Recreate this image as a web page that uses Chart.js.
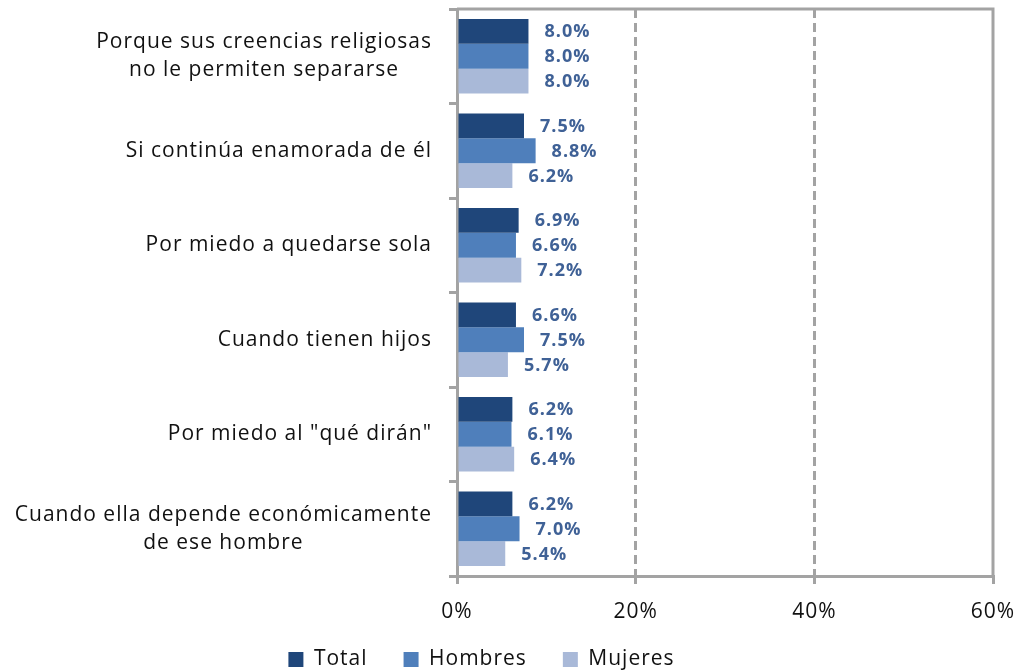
<!DOCTYPE html>
<html>
<head>
<meta charset="utf-8">
<script src="https://cdn.jsdelivr.net/npm/chart.js@4/dist/chart.umd.min.js"></script>
<style>
  html, body { margin: 0; padding: 0; background: #fff; }
  #wrap { width: 1020px; height: 671px; }
</style>
</head>
<body>
<div id="wrap"><canvas id="chart"></canvas></div>
<script>
var categories = [
  ['Porque sus creencias religiosas', 'no le permiten separarse'],
  ['Si continúa enamorada de él'],
  ['Por miedo a quedarse sola'],
  ['Cuando tienen hijos'],
  ['Por miedo al "qué dirán"'],
  ['Cuando ella depende económicamente', 'de ese hombre']
];
var seriesNames = ['Total', 'Hombres', 'Mujeres'];
var totalValues = [8.0, 7.5, 6.9, 6.6, 6.2, 6.2];
var hombresValues = [8.0, 8.8, 6.6, 7.5, 6.1, 7.0];
var mujeresValues = [8.0, 6.2, 7.2, 5.7, 6.4, 5.4];
var tickValues = [0, 20, 40, 60];

var gray = '#A3A3A3';
var fontFamily = '"Open Sans", sans-serif';

// value labels right of each bar
var barLabels = {
  id: 'barLabels',
  afterDatasetsDraw: function(chart) {
    var ctx = chart.ctx;
    ctx.save();
    ctx.font = 'bold 18px ' + fontFamily;
    ctx.fillStyle = '#3F6196';
    ctx.textAlign = 'left';
    ctx.textBaseline = 'middle';
    chart.data.datasets.forEach(function(ds, i) {
      chart.getDatasetMeta(i).data.forEach(function(bar, j) {
        ctx.fillText(ds.data[j].toFixed(1) + '%', bar.x + 16, bar.y + 1);
      });
    });
    ctx.restore();
  }
};

// category labels: block right aligned, lines centered
var catLabels = {
  id: 'catLabels',
  afterDraw: function(chart) {
    var ctx = chart.ctx;
    var y = chart.scales.y;
    var right = chart.chartArea.left - 25;
    var lh = 28;
    ctx.save();
    ctx.font = '21px ' + fontFamily;
    ctx.fillStyle = '#111';
    ctx.textAlign = 'center';
    ctx.textBaseline = 'middle';
    categories.forEach(function(lines, i) {
      var w = 0;
      lines.forEach(function(l) { w = Math.max(w, ctx.measureText(l).width); });
      var cx = right - w / 2;
      var cy = y.getPixelForValue(i);
      lines.forEach(function(l, k) {
        ctx.fillText(l, cx, cy + (k - (lines.length - 1) / 2) * lh);
      });
    });
    ctx.restore();
  }
};

// top and right frame, legend / tick label placement, wider text spacing
var frame = {
  id: 'frame',
  beforeLayout: function(chart) { chart.ctx.letterSpacing = '1px'; },
  beforeDraw: function(chart) { chart.ctx.letterSpacing = '1px'; },
  afterLayout: function(chart) {
    var lg = chart.legend;
    lg.right -= 30;
    lg.top += 9;
    lg.bottom += 9;
    chart.scales.x.bottom = chart.height;
  },
  beforeDatasetsDraw: function(chart) {
    var a = chart.chartArea;
    var ctx = chart.ctx;
    ctx.save();
    ctx.strokeStyle = gray;
    ctx.lineWidth = 3;
    ctx.beginPath();
    ctx.moveTo(a.left, a.top);
    ctx.lineTo(a.right, a.top);
    ctx.lineTo(a.right, a.bottom);
    ctx.stroke();
    ctx.restore();
  }
};

new Chart(document.getElementById('chart'), {
  type: 'bar',
  data: {
    labels: categories.map(function(c) { return c.join(' '); }),
    datasets: [
      { label: seriesNames[0], data: totalValues, backgroundColor: '#1F467A' },
      { label: seriesNames[1], data: hombresValues, backgroundColor: '#4F7FBB' },
      { label: seriesNames[2], data: mujeresValues, backgroundColor: '#A9B9D8' }
    ]
  },
  options: {
    indexAxis: 'y',
    responsive: true,
    maintainAspectRatio: false,
    animation: false,
    datasets: { bar: { categoryPercentage: 0.79, barPercentage: 1 } },
    layout: { padding: { top: 9, right: 27, left: 0, bottom: 0 } },
    plugins: {
      tooltip: { enabled: false },
      legend: {
        position: 'bottom',
        labels: {
          font: { family: fontFamily, size: 21 },
          color: '#111',
          boxWidth: 15,
          boxHeight: 15,
          padding: 36
        }
      }
    },
    scales: {
      y: {
        type: 'category',
        afterFit: function(s) { s.width = 457; },
        ticks: { display: false },
        grid: { offset: true, drawOnChartArea: false, color: gray, lineWidth: 3, tickLength: 8 },
        border: { color: gray, width: 3 }
      },
      x: {
        min: 0,
        max: 60,
        afterFit: function(s) {
          s.height = 671 - 576 - s.chart.legend.height;
          s.paddingRight = 0;
          s.paddingLeft = 0;
        },
        afterBuildTicks: function(s) { s.ticks = tickValues.map(function(v) { return { value: v }; }); },
        ticks: {
          font: { family: fontFamily, size: 21 },
          color: '#111',
          padding: 15,
          callback: function(v) { return v + '%'; }
        },
        grid: {
          color: function(c) { return (c.tick && (c.tick.value === 0 || c.tick.value === 60)) ? 'rgba(0,0,0,0)' : gray; },
          lineWidth: 3,
          tickColor: gray,
          tickLength: 8,
          tickBorderDash: []
        },
        border: { color: gray, width: 3, dash: [9, 5] }
      }
    }
  },
  plugins: [barLabels, catLabels, frame]
});
</script>
</body>
</html>
